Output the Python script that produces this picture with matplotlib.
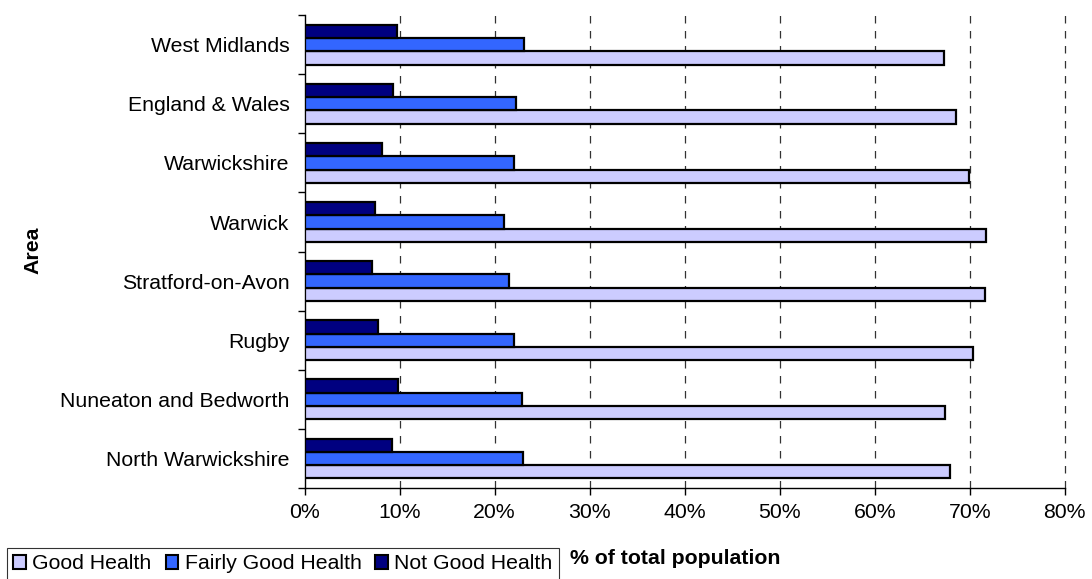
import matplotlib
matplotlib.use("Agg")
import matplotlib.pyplot as plt
import numpy as np
from matplotlib.patches import Patch

plt.rcParams['font.family'] = ['Liberation Sans', 'DejaVu Sans']

areas = ["North Warwickshire", "Nuneaton and Bedworth", "Rugby", "Stratford-on-Avon",
         "Warwick", "Warwickshire", "England & Wales", "West Midlands"]
good = [67.9, 67.4, 70.4, 71.6, 71.7, 69.9, 68.6, 67.3]
fairly_good = [23.0, 22.9, 22.0, 21.5, 21.0, 22.0, 22.2, 23.1]
not_good = [9.2, 9.8, 7.7, 7.1, 7.4, 8.1, 9.3, 9.7]
series_names = ["Good Health", "Fairly Good Health", "Not Good Health"]
colors = ["#CCCCFF", "#3366FF", "#000080"]
xticks = [0, 10, 20, 30, 40, 50, 60, 70, 80]

FS = 15.3

fig = plt.figure(figsize=(10.92, 5.79), dpi=100)
ax = fig.add_axes([0.279, 0.157, 0.696, 0.817])

y = np.arange(len(areas))
h = 0.225
for vals, off, c in [(good, -h, colors[0]), (fairly_good, 0, colors[1]), (not_good, h, colors[2])]:
    ax.barh(y + off, vals, height=h, color=c, edgecolor="black", linewidth=1.6, zorder=3)

ax.set_xlim(0, 80)
ax.set_ylim(-0.5, len(areas) - 0.5)
ax.set_xticks(xticks)
ax.set_xticklabels([f"{v}%" for v in xticks], fontsize=FS)
ax.set_yticks(y)
ax.set_yticklabels(areas, fontsize=FS)
ax.tick_params(axis='y', length=0, pad=11)
ax.set_yticks(np.arange(-0.5, len(areas), 1), minor=True)
ax.tick_params(axis='y', which='minor', length=5, width=1)
ax.tick_params(axis='x', length=5, width=1, pad=6)
for s in ["top", "right"]:
    ax.spines[s].set_visible(False)
ax.spines["left"].set_linewidth(1)
ax.spines["bottom"].set_linewidth(1)
for xv in xticks[1:]:
    ax.axvline(xv, color="#333333", linestyle=(0, (6, 6)), linewidth=0.9, zorder=1, clip_on=False)

fig.text(0.030, 0.568, "Area", rotation=90, fontsize=FS, fontweight="bold", va="center", ha="center")
fig.text(0.522, 0.036, "% of total population", fontsize=FS, fontweight="bold", va="center", ha="left")

handles = [Patch(facecolor=c, edgecolor="black", linewidth=1.5) for c in colors]
leg = fig.legend(handles, series_names, loc="upper left", bbox_to_anchor=(0.0064, 0.0535),
                 ncol=3, fontsize=FS, frameon=True, fancybox=False, handlelength=0.6,
                 handleheight=0.6, handletextpad=0.3, columnspacing=0.65, borderpad=0.3,
                 borderaxespad=0)
leg.get_frame().set_edgecolor("black")
leg.get_frame().set_linewidth(0.8)

fig.savefig("out.png", dpi=100)
